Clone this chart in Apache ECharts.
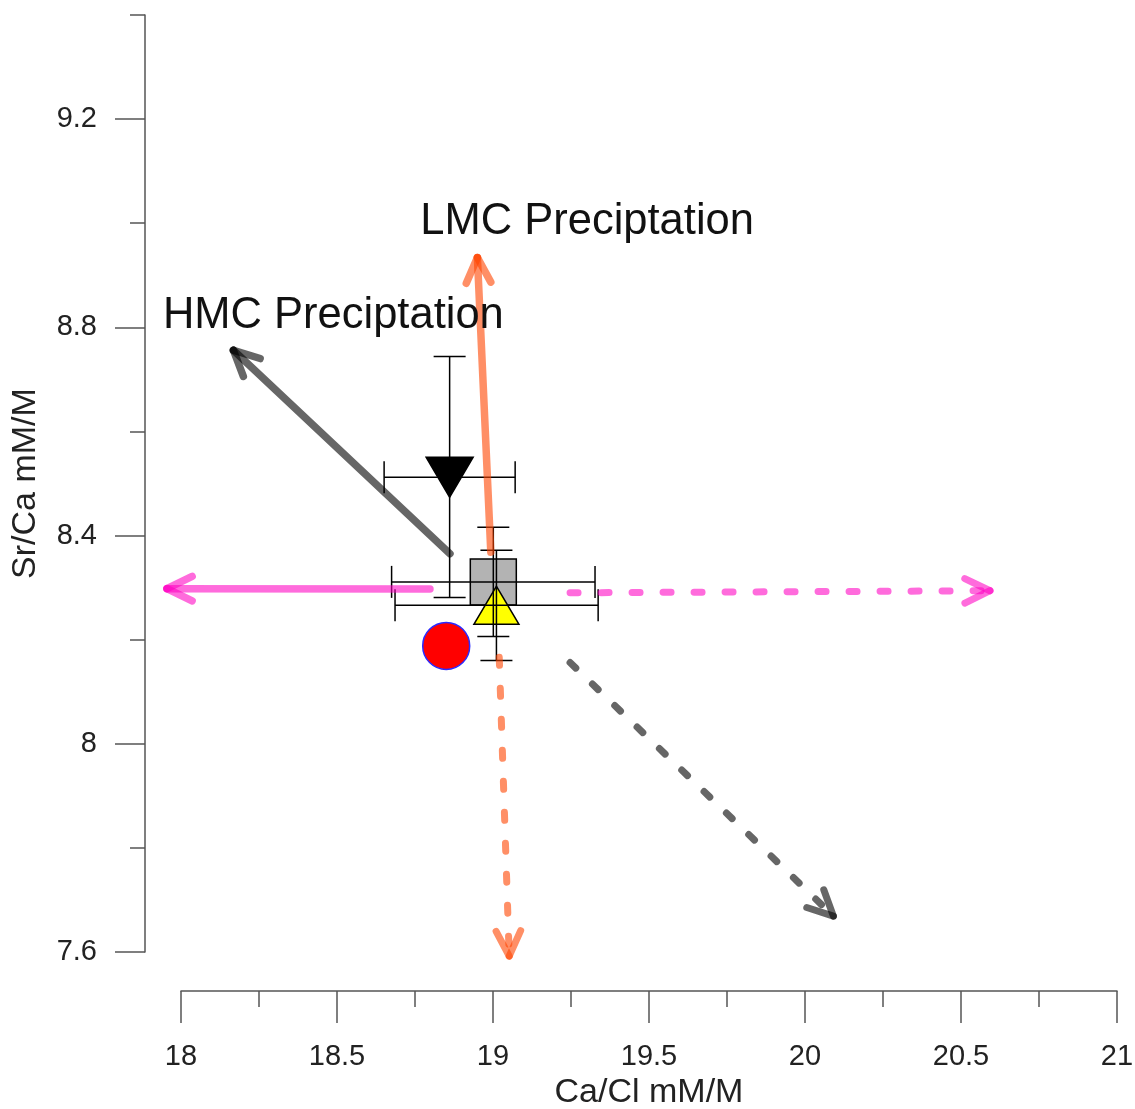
<!DOCTYPE html>
<html>
<head>
<meta charset="utf-8">
<script src="https://cdn.jsdelivr.net/npm/echarts@6/dist/echarts.min.js"></script>
<style>
html,body{margin:0;padding:0;background:#ffffff;}
#chart{width:1135px;height:1109px;}
</style>
</head>
<body>
<div id="chart"></div>
<script>
// ---------- DATA ----------
const xTickValues = [18, 18.5, 19, 19.5, 20, 20.5, 21];
const yMajorTicks = [7.6, 8, 8.4, 8.8, 9.2];
const yMinorTicks = [7.8, 8.2, 8.6, 9.0, 9.4];

const pointNames = ['Square', 'Down triangle', 'Up triangle', 'Circle'];
const pointX = [19.001, 18.861, 19.011, 18.850];
const pointY = [8.311, 8.512, 8.266, 8.188];
const xErrLow  = [18.675, 18.651, 18.686, null];
const xErrHigh = [19.327, 19.071, 19.337, null];
const yErrLow  = [8.206, 8.281, 8.160, null];
const yErrHigh = [8.416, 8.744, 8.372, null];

const arrowNames = ['HMC solid', 'LMC solid', 'Pink solid', 'Pink dashed', 'LMC dashed', 'HMC dashed'];
const arrowX0 = [18.862, 18.993, 18.798, 19.247, 19.020, 19.247];
const arrowY0 = [8.365, 8.368, 8.2975, 8.290, 8.166, 8.156];
const arrowX1 = [18.168, 18.950, 17.955, 20.593, 19.052, 20.091];
const arrowY1 = [8.756, 8.934, 8.298, 8.294, 7.592, 7.669];

const labelText = ['LMC Preciptation', 'HMC Preciptation'];
const labelX = [18.767, 17.942];
const labelY = [9.002, 8.822];

// ---------- STYLES ----------
const FONT = '"Liberation Sans", Arial, sans-serif';
const AXIS_COLOR = '#555555';
const pointStyles = [
  {symbol: 'rect', size: 46, rotate: 0, color: '#b3b3b3', border: '#000000'},
  {symbol: 'triangle', size: [47, 40], rotate: 180, color: '#000000', border: '#000000'},
  {symbol: 'triangle', size: [45, 38], rotate: 0, color: '#ffff00', border: '#000000'},
  {symbol: 'circle', size: 47, rotate: 0, color: '#ff0000', border: '#2a2aff'}
];
const GRAY = 'rgba(0,0,0,0.6)';
const CORAL = 'rgba(255,69,0,0.6)';
const PINK = 'rgba(255,0,195,0.58)';
const arrowStyles = [
  {color: GRAY, dashed: false, width: 7.5},
  {color: CORAL, dashed: false, width: 7.5},
  {color: PINK, dashed: false, width: 7.5},
  {color: PINK, dashed: true, width: 7},
  {color: CORAL, dashed: true, width: 7},
  {color: GRAY, dashed: true, width: 7}
];

// ---------- BUILD ----------
const scatterData = pointX.map((x, i) => ({
  name: pointNames[i],
  value: [x, pointY[i]],
  symbol: pointStyles[i].symbol,
  symbolSize: pointStyles[i].size,
  symbolRotate: pointStyles[i].rotate,
  itemStyle: {color: pointStyles[i].color, borderColor: pointStyles[i].border, borderWidth: 1.5, opacity: 1}
}));

const errData = [];
pointX.forEach((x, i) => {
  if (xErrLow[i] !== null) errData.push([x, pointY[i], xErrLow[i], xErrHigh[i], yErrLow[i], yErrHigh[i]]);
});

const arrowData = arrowX0.map((x, i) => ({name: arrowNames[i], value: [x, arrowY0[i], arrowX1[i], arrowY1[i]]}));
const labelData = labelText.map((t, i) => ({name: t, value: [labelX[i], labelY[i]]}));

function renderErr(params, api) {
  const x = api.value(0), y = api.value(1);
  const xl = api.value(2), xh = api.value(3), yl = api.value(4), yh = api.value(5);
  const pL = api.coord([xl, y]), pH = api.coord([xh, y]);
  const pB = api.coord([x, yl]), pT = api.coord([x, yh]);
  const cap = 16;
  const st = {stroke: '#000000', lineWidth: 1.5, fill: null};
  const mk = (x1, y1, x2, y2) => ({type: 'line', shape: {x1, y1, x2, y2}, style: st});
  return {type: 'group', children: [
    mk(pL[0], pL[1], pH[0], pH[1]),
    mk(pL[0], pL[1] - cap, pL[0], pL[1] + cap),
    mk(pH[0], pH[1] - cap, pH[0], pH[1] + cap),
    mk(pB[0], pB[1], pT[0], pT[1]),
    mk(pB[0] - cap, pB[1], pB[0] + cap, pB[1]),
    mk(pT[0] - cap, pT[1], pT[0] + cap, pT[1])
  ]};
}

function renderArrow(params, api) {
  const i = params.dataIndex;
  const st = arrowStyles[i];
  const p0 = api.coord([api.value(0), api.value(1)]);
  const p1 = api.coord([api.value(2), api.value(3)]);
  const ang = Math.atan2(p1[1] - p0[1], p1[0] - p0[0]);
  const L = 28, a = 26 * Math.PI / 180;
  const h1 = [p1[0] - L * Math.cos(ang - a), p1[1] - L * Math.sin(ang - a)];
  const h2 = [p1[0] - L * Math.cos(ang + a), p1[1] - L * Math.sin(ang + a)];
  const base = {stroke: st.color, lineWidth: st.width, lineCap: 'round', fill: null};
  const shaftStyle = Object.assign({}, base, st.dashed ? {lineDash: [8, 23]} : {});
  return {type: 'group', children: [
    {type: 'line', shape: {x1: p0[0], y1: p0[1], x2: p1[0], y2: p1[1]}, style: shaftStyle},
    {type: 'line', shape: {x1: p1[0], y1: p1[1], x2: h1[0], y2: h1[1]}, style: base},
    {type: 'line', shape: {x1: p1[0], y1: p1[1], x2: h2[0], y2: h2[1]}, style: base}
  ]};
}

function renderLabel(params, api) {
  const p = api.coord([api.value(0), api.value(1)]);
  return {type: 'text', x: p[0], y: p[1], style: {
    text: labelText[params.dataIndex], font: '43.5px ' + FONT, fill: '#111111',
    align: 'left', verticalAlign: 'middle'
  }};
}

const axisLineStyle = {color: AXIS_COLOR, width: 1.5};
const option = {
  animation: false,
  backgroundColor: '#ffffff',
  grid: {left: 181, right: 18, top: 15, bottom: 157, containLabel: false, outerBoundsMode: 'none'},
  xAxis: {
    type: 'value', min: 18, max: 21, interval: 0.5, position: 'bottom', offset: 39,
    axisLine: {show: true, onZero: false, lineStyle: axisLineStyle},
    axisTick: {show: true, length: 32, lineStyle: axisLineStyle, customValues: xTickValues},
    minorTick: {show: true, splitNumber: 2, length: 16, lineStyle: axisLineStyle},
    axisLabel: {show: true, customValues: xTickValues, fontSize: 29, color: '#222222', margin: 51, fontFamily: FONT},
    splitLine: {show: false}, minorSplitLine: {show: false},
    name: 'Ca/Cl mM/M', nameLocation: 'middle', nameGap: 82,
    nameTextStyle: {fontSize: 34, color: '#222222', fontFamily: FONT}
  },
  yAxis: [{
    type: 'value', min: 7.6, max: 9.4, position: 'left', offset: 36,
    axisLine: {show: true, onZero: false, lineStyle: axisLineStyle},
    axisTick: {show: true, length: 30, lineStyle: axisLineStyle, customValues: yMajorTicks},
    axisLabel: {show: true, customValues: yMajorTicks, fontSize: 29, color: '#222222', margin: 48, fontFamily: FONT},
    splitLine: {show: false},
    name: 'Sr/Ca mM/M', nameLocation: 'middle', nameGap: 102,
    nameTextStyle: {fontSize: 34, color: '#222222', fontFamily: FONT}
  }, {
    type: 'value', min: 7.6, max: 9.4, position: 'left', offset: 36,
    axisLine: {show: false},
    axisTick: {show: true, length: 15, lineStyle: axisLineStyle, customValues: yMinorTicks},
    axisLabel: {show: false},
    splitLine: {show: false}
  }],
  series: [
    {type: 'scatter', name: 'points', data: scatterData, z: 2, silent: true},
    {type: 'custom', name: 'error bars', renderItem: renderErr, data: errData, z: 3, clip: false, silent: true},
    {type: 'custom', name: 'arrows', renderItem: renderArrow, data: arrowData, z: 4, clip: false, silent: true},
    {type: 'custom', name: 'labels', renderItem: renderLabel, data: labelData, z: 5, clip: false, silent: true}
  ]
};
const chart = echarts.init(document.getElementById('chart'), null, {renderer: 'canvas'});
chart.setOption(option);
</script>
</body>
</html>
